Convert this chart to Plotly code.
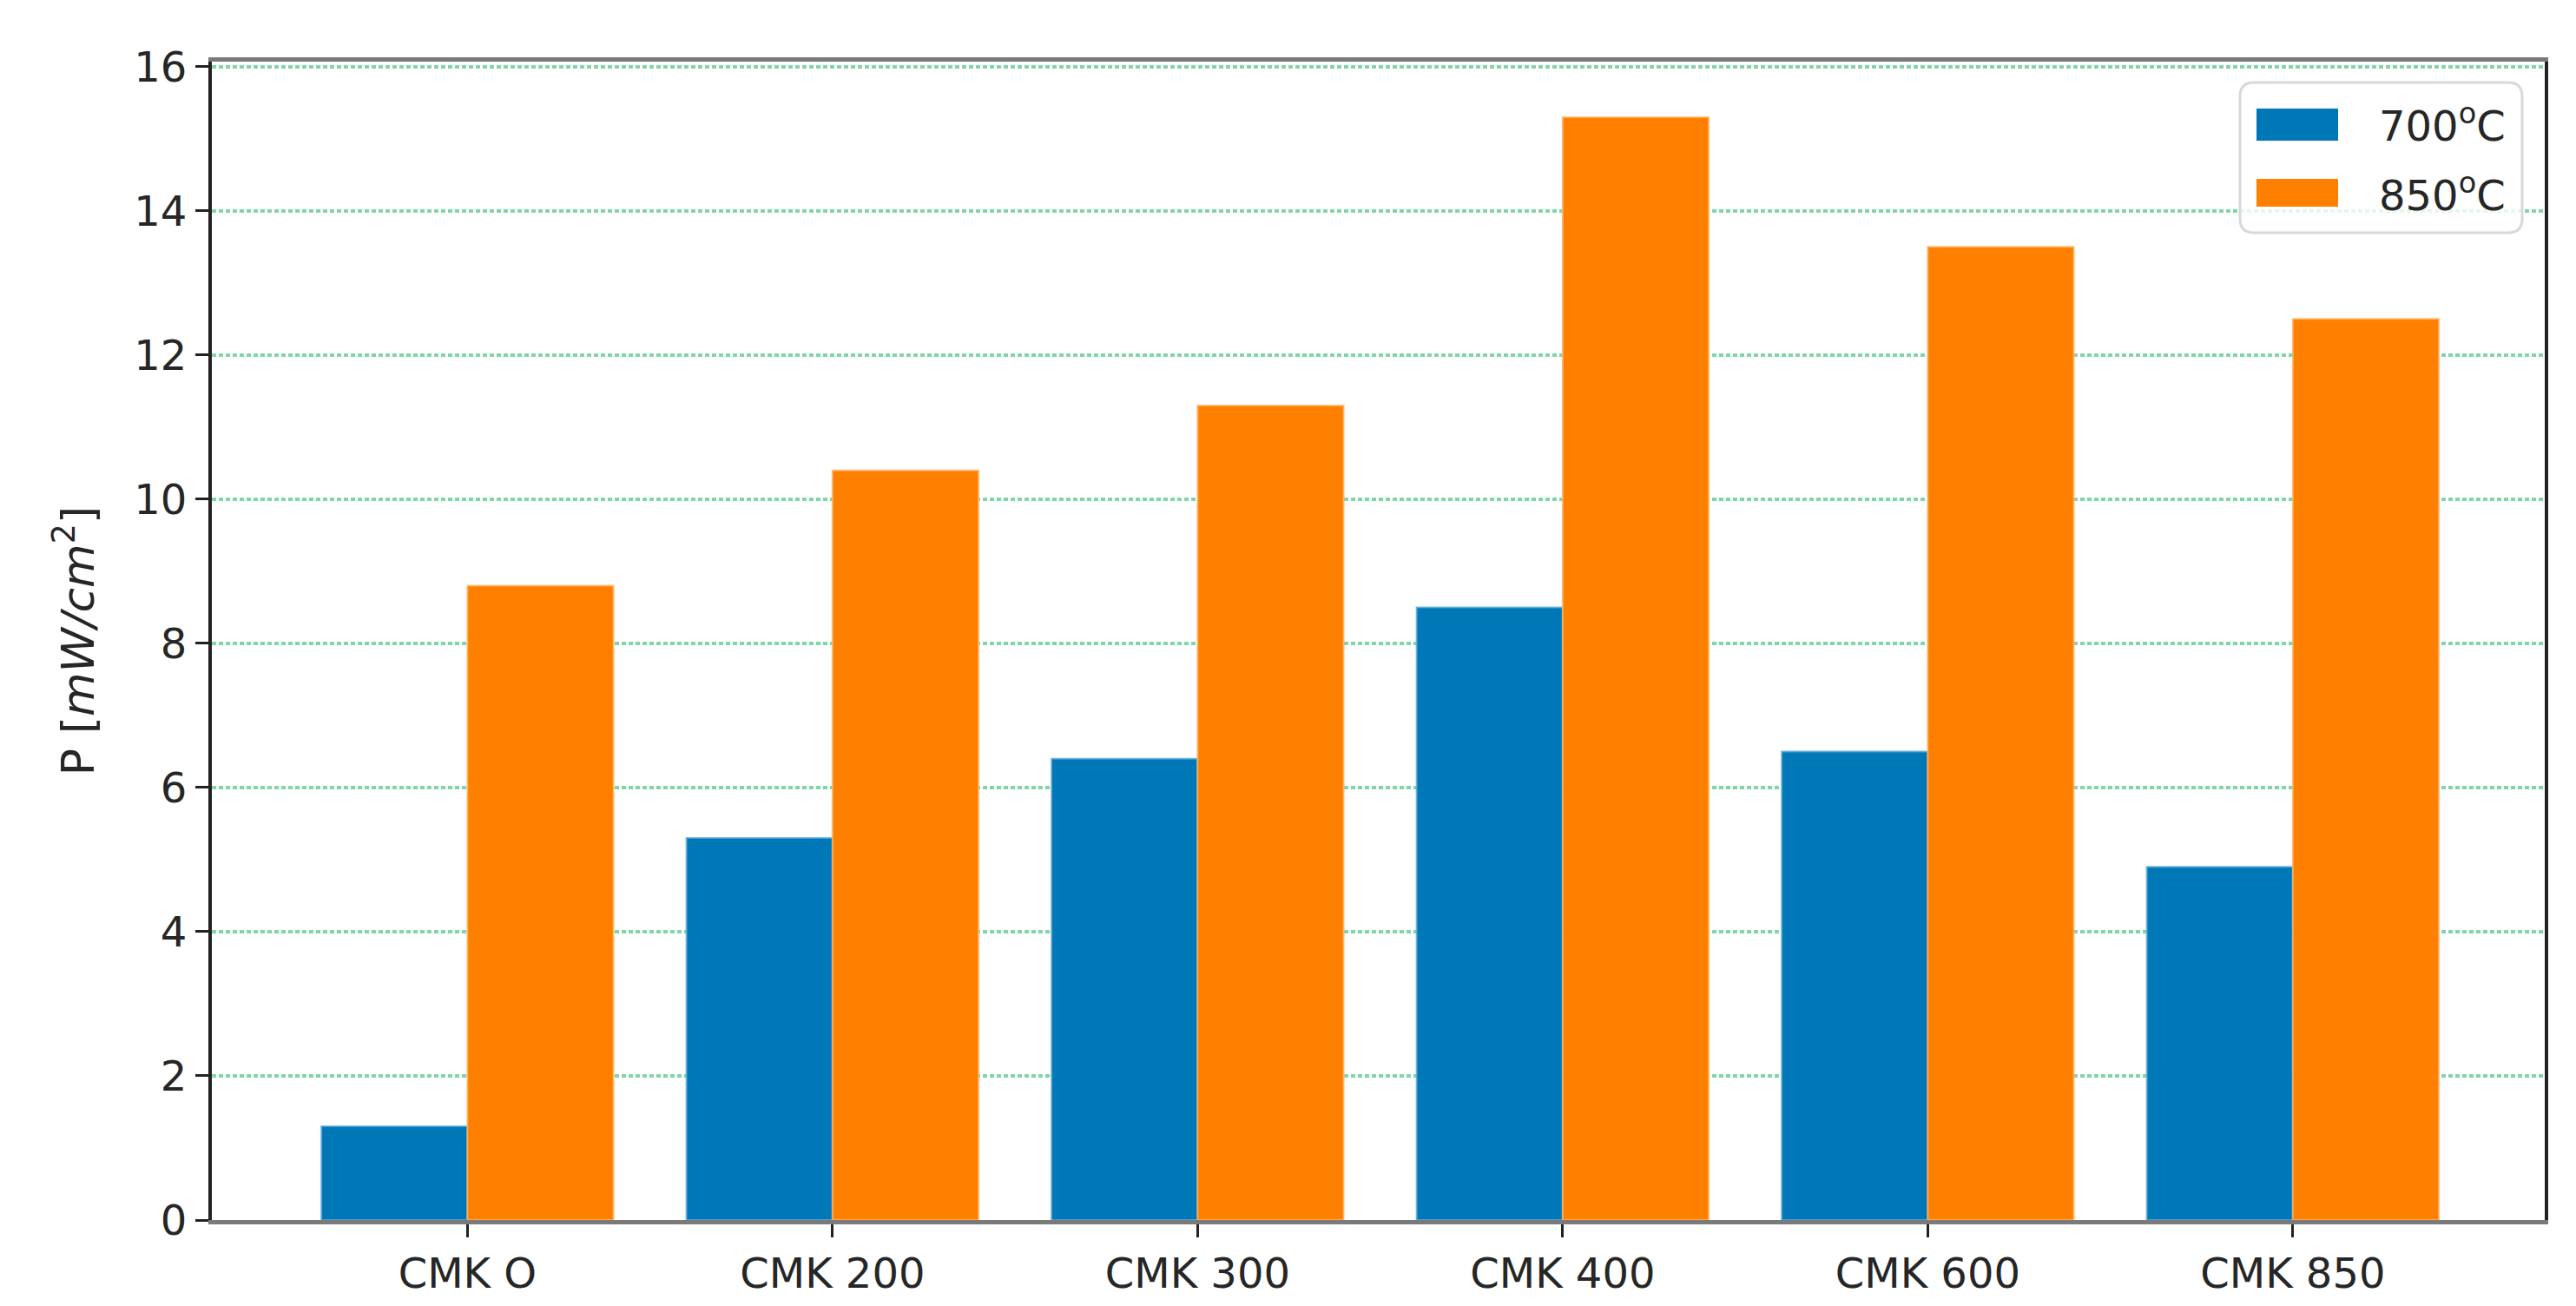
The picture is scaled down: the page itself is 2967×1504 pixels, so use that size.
import plotly.graph_objects as go

categories = ["CMK O", "CMK 200", "CMK 300", "CMK 400", "CMK 600", "CMK 850"]
p_700 = [1.3, 5.3, 6.4, 8.5, 6.5, 4.9]
p_850 = [8.8, 10.4, 11.3, 15.3, 13.5, 12.5]
series_names = ["700<sup>o</sup>C", "850<sup>o</sup>C"]
y_ticks = [0, 2, 4, 6, 8, 10, 12, 14, 16]

BLUE = "#0077b6"
ORANGE = "#ff7f00"
FONT = "DejaVu Sans"
TXT = "#262626"

fig = go.Figure()
fig.add_trace(go.Bar(x=categories, y=p_700, name=series_names[0],
                     marker=dict(color=BLUE, line=dict(color="rgba(90,170,220,0.8)", width=2)),
                     showlegend=False))
fig.add_trace(go.Bar(x=categories, y=p_850, name=series_names[1],
                     marker=dict(color=ORANGE, line=dict(color="rgba(255,180,100,0.8)", width=2)),
                     showlegend=False))

W, H = 2967, 1504
L, R, T, B = 244, 36, 71, 99

fig.update_layout(
    width=W, height=H,
    margin=dict(l=L, r=R, t=T, b=B, pad=0, autoexpand=False),
    paper_bgcolor="white", plot_bgcolor="white",
    barmode="group", bargap=0.2, bargroupgap=0,
    font=dict(family=FONT, color=TXT, size=48),
)
fig.update_xaxes(
    type="category", range=[-0.7, 5.69],
    showline=True, linecolor="#7a7a7a", linewidth=5, mirror=True,
    ticks="outside", ticklen=15, tickwidth=3, tickcolor="#222",
    tickfont=dict(size=48, family=FONT, color=TXT),
    showgrid=False, layer="above traces",
)
fig.update_yaxes(
    range=[0, 16.07], tickvals=y_ticks,
    showline=True, linecolor="#222", linewidth=4, mirror=True,
    ticks="outside", ticklen=15, tickwidth=3, tickcolor="#222",
    tickfont=dict(size=48, family=FONT, color=TXT),
    showgrid=True, gridcolor="rgba(0,176,80,0.5)", gridwidth=4, griddash="5px,3px",
    zeroline=False, layer="above traces",
    title=dict(text="P [<i>mW/cm</i><sup>2</sup>]", font=dict(size=52, family=FONT, color=TXT), standoff=30),
)

# matplotlib-style legend box (top right)
pw, ph = W - L - R, H - T - B
def px(x):
    return (x - L) / pw
def py(y):
    return (H - B - y) / ph

x0, x1, y0, y1, r = px(2580), px(2905), py(268), py(95), 0.006
ry = r * pw / ph
path = (f"M {x0+r},{y1} L {x1-r},{y1} Q {x1},{y1} {x1},{y1-ry} L {x1},{y0+ry} "
        f"Q {x1},{y0} {x1-r},{y0} L {x0+r},{y0} Q {x0},{y0} {x0},{y0+ry} "
        f"L {x0},{y1-ry} Q {x0},{y1} {x0+r},{y1} Z")
fig.add_shape(type="path", path=path, xref="paper", yref="paper",
              fillcolor="rgba(255,255,255,0.8)", line=dict(color="#d8d8d8", width=3), layer="above")
swatches = [(BLUE, 125, 162, 142), (ORANGE, 206, 238, 222)]
for (col, ya, yb, yc), name in zip(swatches, series_names):
    fig.add_shape(type="rect", xref="paper", yref="paper",
                  x0=px(2599), x1=px(2693), y0=py(yb), y1=py(ya),
                  fillcolor=col, line=dict(width=0), layer="above")
    fig.add_annotation(text=name, xref="paper", yref="paper", x=px(2738), y=py(yc),
                       xanchor="left", yanchor="middle", showarrow=False,
                       font=dict(size=48, family=FONT, color=TXT))

fig.write_html("out.html", config={"displayModeBar": False},
               post_script="document.body.style.margin='0';document.body.style.overflow='hidden';")
